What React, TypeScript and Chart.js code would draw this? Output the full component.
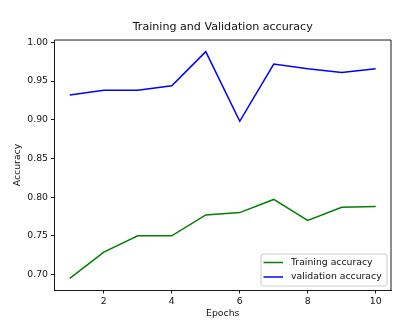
import React, { useEffect, useRef } from "react";
import { Chart, registerables } from "chart.js";

Chart.register(...registerables);

const epochs = [1, 2, 3, 4, 5, 6, 7, 8, 9, 10];
const trainAcc = [0.695, 0.729, 0.75, 0.75, 0.777, 0.78, 0.797, 0.77, 0.787, 0.788];
const valAcc = [0.932, 0.938, 0.938, 0.944, 0.988, 0.898, 0.972, 0.966, 0.961, 0.966];
const xTicks = [2, 4, 6, 8, 10];
const yTicks = [0.7, 0.75, 0.8, 0.85, 0.9, 0.95, 1.0];
const seriesLabels = ["Training accuracy", "validation accuracy"];
const seriesColors = ["#008000", "#0000ff"];

const FONT = "'DejaVu Sans', sans-serif";
const TEXT = "#111111";
const SMALL = 9.3;
const BIG = 11.1;
const LW = 1.5;

const legendPlugin = {
  id: "mplLegend",
  afterDraw(chart: any) {
    const ctx = chart.ctx;
    const a = chart.chartArea;
    const w = 126;
    const h = 32;
    const x0 = a.right - 4 - w;
    const y0 = a.bottom - 4 - h;
    ctx.save();
    ctx.beginPath();
    const r = 2;
    ctx.moveTo(x0 + r, y0);
    ctx.lineTo(x0 + w - r, y0);
    ctx.quadraticCurveTo(x0 + w, y0, x0 + w, y0 + r);
    ctx.lineTo(x0 + w, y0 + h - r);
    ctx.quadraticCurveTo(x0 + w, y0 + h, x0 + w - r, y0 + h);
    ctx.lineTo(x0 + r, y0 + h);
    ctx.quadraticCurveTo(x0, y0 + h, x0, y0 + h - r);
    ctx.lineTo(x0, y0 + r);
    ctx.quadraticCurveTo(x0, y0, x0 + r, y0);
    ctx.closePath();
    ctx.fillStyle = "rgba(255,255,255,0.8)";
    ctx.fill();
    ctx.strokeStyle = "#cccccc";
    ctx.lineWidth = 1;
    ctx.stroke();
    ctx.font = `${SMALL}px ${FONT}`;
    ctx.textBaseline = "middle";
    ctx.textAlign = "left";
    chart.data.datasets.forEach((ds: any, i: number) => {
      const yy = y0 + 8.5 + i * 14.5;
      ctx.beginPath();
      ctx.moveTo(x0 + 2.5, yy);
      ctx.lineTo(x0 + 22, yy);
      ctx.strokeStyle = ds.borderColor;
      ctx.lineWidth = LW;
      ctx.stroke();
      ctx.fillStyle = TEXT;
      ctx.fillText(ds.label, x0 + 30, yy);
    });
    ctx.restore();
  },
};

export default function App() {
  const ref = useRef<HTMLCanvasElement>(null);
  useEffect(() => {
    if (!ref.current) return;
    const chart = new Chart(ref.current, {
      type: "line",
      data: {
        datasets: [
          {
            label: seriesLabels[0],
            data: epochs.map((e, i) => ({ x: e, y: trainAcc[i] })),
            borderColor: seriesColors[0],
            backgroundColor: seriesColors[0],
            borderWidth: LW,
            pointRadius: 0,
            tension: 0,
          },
          {
            label: seriesLabels[1],
            data: epochs.map((e, i) => ({ x: e, y: valAcc[i] })),
            borderColor: seriesColors[1],
            backgroundColor: seriesColors[1],
            borderWidth: LW,
            pointRadius: 0,
            tension: 0,
          },
        ],
      },
      options: {
        animation: false,
        responsive: false,
        maintainAspectRatio: false,
        layout: { padding: { left: 0, right: 15, top: 0, bottom: 0 } },
        plugins: {
          legend: { display: false },
          tooltip: { enabled: false },
          title: {
            display: true,
            text: "Training and Validation accuracy",
            color: TEXT,
            font: { family: FONT, size: BIG, weight: "normal", lineHeight: 1.2 },
            padding: { top: 20.5, bottom: 6.2 },
            fullSize: false,
          },
        },
        scales: {
          x: {
            type: "linear",
            min: 0.55,
            max: 10.45,
            afterFit: (s: any) => {
              s.height = 41;
            },
            afterBuildTicks: (s: any) => {
              s.ticks = xTicks.map((v) => ({ value: v }));
            },
            grid: {
              drawOnChartArea: false,
              drawTicks: true,
              tickLength: 3.5,
              tickColor: "#000",
              tickWidth: 0.9,
            },
            border: { display: true, color: "#000", width: 0.9 },
            ticks: {
              color: TEXT,
              font: { family: FONT, size: SMALL },
              padding: 2.5,
              maxRotation: 0,
              autoSkip: false,
              callback: (v: any) => String(v),
            },
            title: {
              display: true,
              text: "Epochs",
              color: TEXT,
              font: { family: FONT, size: SMALL },
              padding: { top: 0, bottom: 12 },
            },
          },
          y: {
            type: "linear",
            min: 0.68,
            max: 1.003,
            afterFit: (s: any) => {
              s.width = 54.5;
            },
            afterBuildTicks: (s: any) => {
              s.ticks = yTicks.map((v) => ({ value: v }));
            },
            grid: {
              drawOnChartArea: false,
              drawTicks: true,
              tickLength: 3.5,
              tickColor: "#000",
              tickWidth: 0.9,
            },
            border: { display: true, color: "#000", width: 0.9 },
            ticks: {
              color: TEXT,
              font: { family: FONT, size: SMALL },
              padding: 3,
              autoSkip: false,
              callback: (v: any) => Number(v).toFixed(2),
            },
            title: {
              display: true,
              text: "Accuracy",
              color: TEXT,
              font: { family: FONT, size: SMALL },
              padding: { top: 12.5, bottom: 0 },
            },
          },
        },
      },
      plugins: [
        legendPlugin,
        {
          id: "rightTopBorder",
          afterDraw(chart: any) {
            const ctx = chart.ctx;
            const a = chart.chartArea;
            ctx.save();
            ctx.strokeStyle = "#000";
            ctx.lineWidth = 0.9;
            ctx.beginPath();
            ctx.moveTo(a.left, a.top);
            ctx.lineTo(a.right, a.top);
            ctx.lineTo(a.right, a.bottom);
            ctx.stroke();
            ctx.restore();
          },
        },
      ],
    } as any);
    return () => chart.destroy();
  }, []);
  return (
    <div style={{ position: "absolute", left: 0, top: 0, width: 406, height: 331, background: "#fff" }}>
      <canvas ref={ref} width={406} height={331} style={{ width: 406, height: 331 }} />
    </div>
  );
}
